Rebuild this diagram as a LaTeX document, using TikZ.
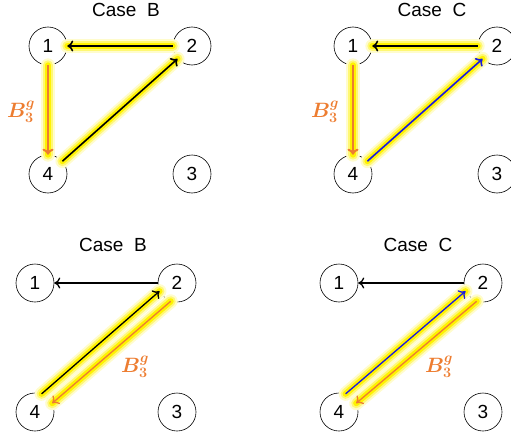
\documentclass[tikz,border=0pt]{standalone}
\usepackage{fontspec}
\setmainfont{Liberation Sans}
\usepackage{amsmath}
\usetikzlibrary{arrows.meta}
\definecolor{orangeB}{RGB}{237,125,49}
\definecolor{bleu}{RGB}{25,25,225}
\tikzset{
  sommet/.style={draw,circle,minimum size=38pt,inner sep=0pt,line width=0.6pt,font=\fontsize{19}{19}\selectfont},
  fleche/.style={line width=1.6pt,-{To[length=6pt,width=11pt]}},
  lueur/.style={line width=14pt,yellow!20,line cap=round},
  lueurbis/.style={line width=10pt,yellow!55,line cap=round},
  lueurter/.style={line width=6pt,yellow,line cap=round},
  titre/.style={font=\fontsize{19}{19}\selectfont},
  etiquette/.style={text=orangeB,font=\fontsize{22}{22}\selectfont}
}
\begin{document}
\begin{tikzpicture}[x=1pt,y=-1pt]
  \useasboundingbox (0,0) rectangle (511,436);
  \clip (0,0) rectangle (511,436);
  \def\sommets#1#2{
    \node[sommet] (s1) at (0,0) {1};
    \node[sommet] (s2) at (#1,0) {2};
    \node[sommet] (s3) at (#1,#2) {3};
    \node[sommet] (s4) at (0,#2) {4};}
  % en haut
  \begin{scope}[shift={(48,46)}]
    \sommets{144}{128}
    \node[titre] (t) at (78,-36) {Case\ \ B};
    \foreach \s in {lueur,lueurbis,lueurter}{
      \draw[\s] (s2) -- (s1);
      \draw[\s] (s1) -- (s4);
      \draw[\s] (s4) -- (s2);}
    \draw[fleche] (s2) -- (s1);
    \draw[fleche,orangeB,line width=2pt] (s1) -- (s4);
    \draw[fleche] (s4) -- (s2);
    \node[etiquette] (b) at (-27,66) {$\boldsymbol{B_3^g}$};
  \end{scope}
  \begin{scope}[shift={(353,46)}]
    \sommets{144}{128}
    \node[titre] (t) at (79,-36) {Case\ \ C};
    \foreach \s in {lueur,lueurbis,lueurter}{
      \draw[\s] (s2) -- (s1);
      \draw[\s] (s1) -- (s4);
      \draw[\s] (s4) -- (s2);}
    \draw[fleche] (s2) -- (s1);
    \draw[fleche,orangeB,line width=2pt] (s1) -- (s4);
    \draw[fleche,bleu] (s4) -- (s2);
    \node[etiquette] (b) at (-28,66) {$\boldsymbol{B_3^g}$};
  \end{scope}
  % en bas
  \begin{scope}[shift={(35,283)}]
    \sommets{142}{129}
    \node[titre] (t) at (78,-38) {Case\ \ B};
    \foreach \s in {lueur,lueurbis,lueurter}{
      \draw[\s] (s4.70) -- (s2.205);
      \draw[\s] (s2.251) -- (s4.27);}
    \draw[fleche,line width=1.3pt] (s2.west) -- (s1);
    \draw[fleche,line width=1.3pt] (s4.70) -- (s2.205);
    \draw[fleche,orangeB,line width=1.3pt] (s2.251) -- (s4.27);
    \node[etiquette] (b) at (100,84) {$\boldsymbol{B_3^g}$};
  \end{scope}
  \begin{scope}[shift={(339,283)}]
    \sommets{144}{129}
    \node[titre] (t) at (79,-38) {Case\ \ C};
    \foreach \s in {lueur,lueurbis,lueurter}{
      \draw[\s] (s4.70) -- (s2.205);
      \draw[\s] (s2.251) -- (s4.27);}
    \draw[fleche,line width=1.3pt] (s2.west) -- (s1);
    \draw[fleche,bleu,line width=1.3pt] (s4.70) -- (s2.205);
    \draw[fleche,orangeB,line width=1.3pt] (s2.251) -- (s4.27);
    \node[etiquette] (b) at (100,84) {$\boldsymbol{B_3^g}$};
  \end{scope}
\end{tikzpicture}
\end{document}
